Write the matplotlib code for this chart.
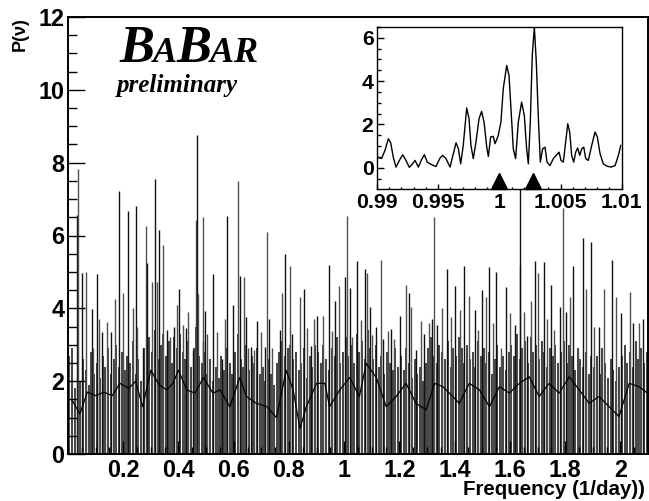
import numpy as np
import matplotlib
matplotlib.use("Agg")
import matplotlib.pyplot as plt
from matplotlib.ticker import FixedLocator, MultipleLocator

# ---------------- data ----------------
# dense periodogram band: typical column height per 0.01 bin (0 .. 2.1)
band_top = [
    2.7, 2.9, 1.8, 2.4, 2.0, 2.6, 2.3, 1.9, 2.8, 2.2,
    2.5, 2.1, 2.7, 2.4, 2.9, 2.2, 2.6, 3.0, 2.4, 2.8,
    2.3, 2.7, 2.5, 3.1, 2.2, 2.6, 2.0, 2.9, 2.4, 3.2,
    2.8, 3.4, 2.6, 3.0, 3.3, 2.7, 3.1, 2.5, 3.2, 2.9,
    3.3, 2.8, 2.6, 3.1, 2.4, 2.9, 3.5, 2.7, 2.5, 2.8,
    2.2, 2.6, 2.0, 2.4, 2.1, 2.7, 2.3, 2.9, 2.5, 2.2,
    2.8, 3.3, 2.6, 2.4, 3.0, 2.3, 2.7, 2.5, 2.9, 2.2,
    2.4, 2.0, 2.6, 2.2, 1.9, 2.5, 2.8, 3.1, 2.7, 2.9,
    3.0, 2.6, 2.8, 2.3, 2.5, 2.9, 2.1, 2.7, 2.4, 3.0,
    2.8, 2.5, 3.0, 2.6, 2.3, 2.9, 2.7, 3.2, 2.5, 2.8,
    3.2, 2.7, 3.0, 2.5, 3.3, 2.8, 3.1, 2.6, 3.4, 2.9,
    2.6, 3.0, 2.4, 2.7, 2.2, 2.8, 2.5, 2.3, 2.9, 2.4,
    2.7, 2.3, 2.9, 2.5, 2.1, 2.6, 2.2, 2.4, 2.0, 2.5,
    2.9, 3.2, 2.7, 2.5, 3.0, 2.8, 2.6, 3.1, 2.4, 2.9,
    2.7, 3.2, 2.9, 2.5, 3.0, 2.6, 2.8, 2.4, 3.1, 2.7,
    2.9, 2.5, 2.8, 2.2, 2.6, 3.0, 2.4, 2.7, 2.3, 2.8,
    3.0, 2.7, 3.3, 2.6, 2.9, 3.1, 2.5, 3.2, 2.8, 3.0,
    2.6, 3.1, 2.8, 2.4, 2.9, 2.7, 3.0, 2.5, 2.8, 3.1,
    2.5, 3.0, 2.7, 2.3, 2.9, 2.6, 2.4, 2.8, 2.2, 2.7,
    2.4, 2.7, 2.2, 2.9, 2.5, 2.1, 2.6, 2.3, 2.0, 2.4,
    2.7, 3.0, 2.5, 2.8, 2.4, 3.1, 2.6, 2.9, 2.5, 2.8,
]
band_edges = np.linspace(0.0, 2.1, len(band_top) + 1)

# individual tall peaks
spike_freq = [
    0.031, 0.037, 0.050, 0.064, 0.086, 0.092, 0.106, 0.112, 0.122, 0.143,
    0.154, 0.170, 0.186, 0.200, 0.216, 0.234, 0.246, 0.251, 0.270, 0.282,
    0.287, 0.303, 0.315, 0.321, 0.330, 0.345, 0.357, 0.369, 0.383, 0.395,
    0.403, 0.415, 0.427, 0.435, 0.453, 0.463, 0.468, 0.471, 0.487, 0.489,
    0.495, 0.505, 0.526, 0.541, 0.558, 0.568, 0.574, 0.582, 0.598, 0.616,
    0.622, 0.638, 0.644, 0.652, 0.664, 0.674, 0.685, 0.700, 0.712, 0.722,
    0.728, 0.739, 0.767, 0.775, 0.786, 0.803, 0.811, 0.839, 0.855, 0.867,
    0.881, 0.891, 0.903, 0.923, 0.945, 0.957, 0.968, 0.983, 1.004, 1.010,
    1.020, 1.030, 1.046, 1.062, 1.074, 1.082, 1.092, 1.102, 1.116, 1.132,
    1.140, 1.158, 1.168, 1.180, 1.201, 1.222, 1.234, 1.243, 1.261, 1.277,
    1.288, 1.306, 1.319, 1.325, 1.336, 1.355, 1.373, 1.388, 1.403, 1.418,
    1.433, 1.451, 1.472, 1.484, 1.500, 1.512, 1.523, 1.538, 1.548, 1.566,
    1.587, 1.602, 1.619, 1.635, 1.637, 1.650, 1.661, 1.677, 1.691, 1.701,
    1.723, 1.735, 1.749, 1.761, 1.783, 1.791, 1.804, 1.816, 1.830, 1.846,
    1.864, 1.876, 1.894, 1.906, 1.924, 1.942, 1.969, 1.984, 2.002, 2.036,
    2.045, 2.067, 2.081,
]
spike_power = [
    6.57, 7.82, 4.97, 5.01, 3.97, 2.9, 4.95, 3.7, 3.36, 3.62,
    3.35, 4.26, 7.22, 4.43, 6.66, 4.0, 6.81, 3.5, 2.9, 6.26,
    5.24, 4.72, 7.55, 4.72, 6.14, 5.74, 3.4, 3.2, 3.5, 4.1,
    4.54, 3.55, 3.47, 3.9, 2.85, 6.43, 8.76, 4.4, 3.1, 6.52,
    3.92, 3.3, 4.95, 3.34, 2.6, 3.7, 6.54, 2.2, 4.1, 7.51,
    4.9, 4.85, 3.75, 2.9, 2.95, 2.85, 3.65, 3.36, 2.95, 6.09,
    3.7, 2.9, 3.4, 4.43, 5.48, 5.15, 3.3, 4.3, 4.54, 3.45,
    2.97, 3.7, 3.78, 3.78, 5.2, 3.37, 4.2, 4.6, 4.85, 6.54,
    4.57, 3.2, 5.29, 3.68, 5.08, 4.98, 4.05, 3.28, 3.5, 5.34,
    3.16, 3.38, 3.43, 3.16, 3.8, 4.65, 4.43, 4.04, 2.85, 3.66,
    3.3, 3.6, 3.7, 6.5, 3.55, 4.0, 5.09, 3.75, 4.6, 3.95,
    5.15, 4.35, 3.95, 3.4, 4.5, 4.3, 5.14, 3.6, 5.0, 2.9,
    4.59, 3.87, 3.53, 5.2, 7.3, 3.9, 3.25, 4.2, 5.29, 4.97,
    5.26, 3.7, 4.64, 3.4, 4.05, 6.75, 3.9, 4.3, 5.15, 2.85,
    5.94, 4.54, 5.82, 3.5, 3.5, 4.52, 5.33, 4.3, 3.87, 4.44,
    3.6, 3.6, 3.7,
]

# dark running level inside the band
mean_freq = [
    0.013, 0.043, 0.07, 0.1, 0.13, 0.16, 0.188, 0.22, 0.245, 0.27,
    0.30, 0.33, 0.357, 0.38, 0.40, 0.43, 0.46, 0.49, 0.525, 0.55,
    0.586, 0.622, 0.646, 0.68, 0.72, 0.755, 0.79, 0.815, 0.84, 0.863,
    0.90, 0.93, 0.947, 0.984, 1.02, 1.055, 1.08, 1.116, 1.152, 1.188,
    1.224, 1.26, 1.297, 1.327, 1.357, 1.393, 1.417, 1.453, 1.49, 1.526,
    1.562, 1.598, 1.634, 1.67, 1.706, 1.742, 1.778, 1.815, 1.851, 1.887,
    1.923, 1.959, 1.995, 2.032, 2.068, 2.098,
]
mean_power = [
    1.5, 1.1, 1.7, 1.6, 1.7, 1.6, 1.94, 1.8, 2.0, 1.3,
    2.3, 1.9, 1.76, 1.94, 2.3, 1.76, 1.67, 2.1, 1.67, 1.76,
    1.3, 2.1, 1.58, 1.4, 1.3, 1.0, 2.3, 1.76, 0.7, 1.3,
    1.94, 1.94, 1.3, 1.76, 2.1, 1.58, 2.49, 2.1, 1.3, 1.58,
    1.94, 1.39, 1.21, 1.94, 1.85, 1.58, 1.39, 1.94, 1.76, 1.3,
    1.85, 1.67, 1.94, 2.12, 1.58, 1.94, 1.67, 2.12, 1.76, 1.39,
    1.58, 1.3, 1.03, 1.94, 1.85, 1.67,
]

# inset: zoom around 1/day
inset_freq = [
    0.99003, 0.99038, 0.99065, 0.99093, 0.99112, 0.99133, 0.99155, 0.99183, 0.99210, 0.99237,
    0.99264, 0.99286, 0.99311, 0.99338, 0.99365, 0.99387, 0.99411, 0.99447, 0.99482, 0.99515,
    0.99537, 0.99564, 0.99597, 0.99624, 0.99646, 0.99665, 0.99684, 0.99705, 0.99733, 0.99752,
    0.99768, 0.99787, 0.99809, 0.99834, 0.99855, 0.99875, 0.99897, 0.99910, 0.99929, 0.99950,
    0.99965, 0.99991, 1.00013, 1.00032, 1.00060, 1.00079, 1.00095, 1.00114, 1.00133, 1.00155,
    1.00182, 1.00204, 1.00223, 1.00237, 1.00253, 1.00269, 1.00286, 1.00302, 1.00319, 1.00335,
    1.00354, 1.00373, 1.00390, 1.00414, 1.00441, 1.00469, 1.00488, 1.00504, 1.00523, 1.00542,
    1.00559, 1.00575, 1.00591, 1.00608, 1.00624, 1.00640, 1.00657, 1.00673, 1.00690, 1.00706,
    1.00727, 1.00755, 1.00782, 1.00801, 1.00823, 1.00850, 1.00877, 1.00913, 1.00946, 1.00973,
    1.00992,
]
inset_power = [
    0.49, 0.43, 0.80, 1.34, 1.15, 0.49, 0.03, 0.34, 0.60, 0.34,
    0.02, 0.15, 0.34, 0.03, 0.38, 0.60, 0.26, 0.14, 0.06, 0.45,
    0.57, 0.42, 0.03, 0.65, 1.15, 0.88, 0.18, 1.03, 2.76, 2.27,
    1.03, 0.42, 1.19, 2.27, 2.60, 2.11, 0.95, 0.52, 1.42, 1.45,
    1.11, 1.49, 2.11, 3.65, 4.72, 4.26, 2.72, 0.88, 0.42, 2.11,
    3.03, 2.42, 0.88, 0.18, 2.11, 5.19, 6.50, 4.87, 2.27, 0.26,
    0.88, 0.95, 0.26, 0.10, 0.42, 0.60, 0.72, 0.34, 0.26, 1.19,
    2.03, 1.65, 0.57, 0.26, 0.72, 0.91, 0.57, 0.88, 0.95, 0.42,
    0.34, 1.03, 1.65, 1.42, 0.65, 0.18, 0.08, 0.03, 0.10, 0.57,
    1.03,
]
# solar and sidereal day markers
marker_freq = [1.0, 1.002738]

x_ticks = [0.2, 0.4, 0.6, 0.8, 1.0, 1.2, 1.4, 1.6, 1.8, 2.0]
x_tick_labels = ["0.2", "0.4", "0.6", "0.8", "1", "1.2", "1.4", "1.6", "1.8", "2"]
y_ticks = [0, 2, 4, 6, 8, 10, 12]
y_tick_labels = ["0", "2", "4", "6", "8", "10", "12"]
in_x_ticks = [0.99, 0.995, 1.0, 1.005, 1.01]
in_x_labels = ["0.99", "0.995", "1", "1.005", "1.01"]
in_y_ticks = [0, 2, 4, 6]
in_y_labels = ["0", "2", "4", "6"]

# ---------------- figure ----------------
W, H = 649, 501
fig = plt.figure(figsize=(W / 100, H / 100), dpi=100)
SANS = "Liberation Sans"
SERIF = "Liberation Serif"

ax = fig.add_axes([68 / W, 47 / H, 580 / W, 437 / H])
centers = 0.5 * (band_edges[:-1] + band_edges[1:])
ax.vlines(centers, 0, band_top, colors="#484848", linewidth=1.45, zorder=2)
spike_cols = ["#111111" if i % 2 == 0 else "#505050" for i in range(len(spike_freq))]
ax.vlines(spike_freq, 0, spike_power, colors=spike_cols, linewidth=1.0, zorder=2.1)
ax.plot(mean_freq, mean_power, color="black", lw=0.9, zorder=2.2)

ax.set_xlim(0, 2.1)
ax.set_ylim(0, 12)
ax.set_axisbelow(False)
ax.xaxis.set_major_locator(FixedLocator(x_ticks))
ax.xaxis.set_minor_locator(MultipleLocator(0.05))
ax.yaxis.set_major_locator(FixedLocator(y_ticks))
ax.yaxis.set_minor_locator(MultipleLocator(0.5))
ax.set_xticklabels(x_tick_labels, fontsize=16.8, fontweight="bold", family=SANS)
ax.set_yticklabels(y_tick_labels, fontsize=16.8, fontweight="bold", family=SANS)
ax.tick_params(axis="y", which="major", direction="in", length=12.5, width=1.0, pad=2.5)
ax.tick_params(axis="y", which="minor", direction="in", length=6.3, width=1.0)
ax.tick_params(axis="x", which="major", direction="in", length=9.4, width=1.0, pad=3.5)
ax.tick_params(axis="x", which="minor", direction="in", length=4.7, width=1.0)
for s in ax.spines.values():
    s.set_linewidth(1.4)

fig.text(645 / W, (H - 495) / H, "Frequency (1/day))", ha="right", va="baseline",
         fontsize=14.8, fontweight="bold", family=SANS)
fig.text(20 / W, (H - 17) / H, "P(\u03bd)", rotation=90, ha="center", va="top",
         fontsize=13, fontweight="bold", family=SANS)

# BaBar logo
fig.canvas.draw()
r = fig.canvas.get_renderer()
xpos = 119
yb = (H - 62) / H
for ch, sz in [("B", 37.7), ("A", 26), ("B", 37.7), ("A", 26), ("R", 26)]:
    t = fig.text(xpos / W, yb, ch, fontsize=sz, family=SERIF, fontweight="bold",
                 style="italic", ha="left", va="baseline")
    bb = t.get_window_extent(renderer=r)
    xpos = bb.x1 - 1
fig.text(117 / W, (H - 92) / H, "preliminary", fontsize=18, family=SERIF,
         fontweight="bold", style="italic", ha="left", va="baseline")

# inset
axin = fig.add_axes([377 / W, (H - 189) / H, 244.7 / W, 162.3 / H])
axin.set_facecolor("white")
axin.plot(inset_freq, inset_power, color="black", lw=1.0)
axin.plot(marker_freq, [-0.63] * len(marker_freq), ls="none", marker="^",
          ms=11, color="black", clip_on=False)
axin.set_xlim(0.99, 1.01)
axin.set_ylim(-0.98, 6.51)
axin.xaxis.set_major_locator(FixedLocator(in_x_ticks))
axin.xaxis.set_minor_locator(MultipleLocator(0.001))
axin.yaxis.set_major_locator(FixedLocator(in_y_ticks))
axin.yaxis.set_minor_locator(MultipleLocator(0.5))
axin.set_xticklabels(in_x_labels, fontsize=15.3, fontweight="bold", family=SANS)
axin.set_yticklabels(in_y_labels, fontsize=15.3, fontweight="bold", family=SANS)
axin.tick_params(axis="y", which="major", direction="in", length=5.3, width=1.0, pad=2.5)
axin.tick_params(axis="y", which="minor", direction="in", length=2.6, width=1.0)
axin.tick_params(axis="x", which="major", direction="in", length=3.5, width=1.0, pad=3)
axin.tick_params(axis="x", which="minor", direction="in", length=1.8, width=1.0)
for s in axin.spines.values():
    s.set_linewidth(1.0)

fig.savefig("out.png", dpi=100)
